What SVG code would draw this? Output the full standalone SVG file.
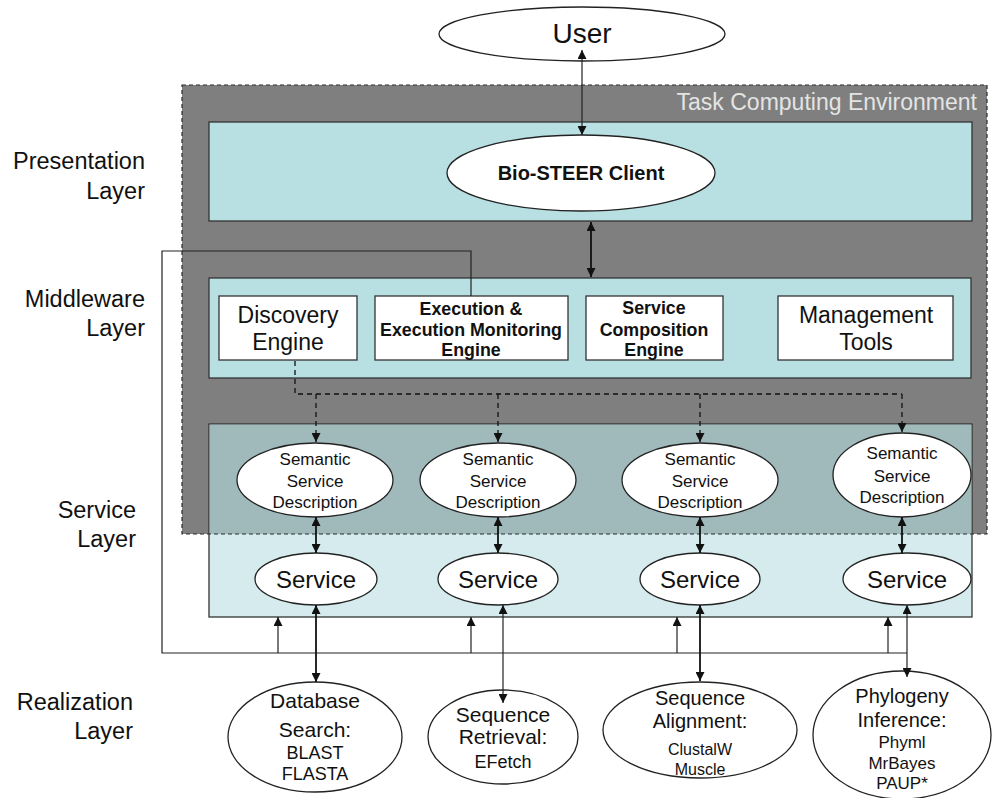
<svg xmlns="http://www.w3.org/2000/svg" width="992" height="798" viewBox="0 0 992 798">
<style>
text{font-family:"Liberation Sans",Arial,Helvetica,sans-serif;fill:#111;}
.lbl{font-size:23.5px;text-anchor:end;}
.box{stroke:#333;stroke-width:1.3;}
.wbox{fill:#fff;stroke:#333;stroke-width:1.3;}
.ell{fill:#fff;stroke:#222;stroke-width:1.3;}
.c{text-anchor:middle;}
.b{font-weight:bold;}
.ln{fill:none;stroke:#222;stroke-width:1.2;}
.lnb{fill:none;stroke:#111;stroke-width:1.8;}
.dash{fill:none;stroke:#111;stroke-width:1.3;stroke-dasharray:5,4;}
</style>
<defs>
<marker id="ah" viewBox="0 0 10 10" refX="10" refY="5" markerWidth="9" markerHeight="9" markerUnits="userSpaceOnUse" orient="auto-start-reverse">
<path d="M0,0 L10,5 L0,10 z" fill="#111"/>
</marker>
</defs>
<rect width="992" height="798" fill="#fff"/>

<g id="layer-labels">
<text class="lbl" x="145" y="169">Presentation</text>
<text class="lbl" x="145" y="199">Layer</text>
<text class="lbl" x="145" y="307">Middleware</text>
<text class="lbl" x="145" y="336">Layer</text>
<text class="lbl" x="136" y="518">Service</text>
<text class="lbl" x="136" y="547">Layer</text>
<text class="lbl" x="133" y="710">Realization</text>
<text class="lbl" x="133" y="739">Layer</text>
</g>

<g id="task-computing-environment">
<rect x="182" y="85" width="805" height="449" fill="#7f7f7f"/>
<text x="977" y="110" style="font-size:23px;text-anchor:end;fill:#e4e4e4">Task Computing Environment</text>
</g>

<g id="presentation-layer">
<rect class="box" x="209" y="122" width="763" height="99" fill="#b8dfe2"/>
</g>

<g id="middleware-layer">
<rect class="box" x="209" y="278" width="762" height="100" fill="#b8dfe2"/>
</g>

<g id="service-layer">
<rect class="box" x="209" y="424" width="763" height="193" fill="#d5ebee"/>
<rect x="209.7" y="424.7" width="761.6" height="109.3" fill="#a0babb"/>
</g>

<g id="tce-border">
<rect x="182" y="85" width="805" height="449" fill="none" stroke="#2a2a2a" stroke-width="1.2" stroke-dasharray="4,3"/>
</g>

<g id="user">
<ellipse class="ell" cx="582" cy="34" rx="143" ry="27"/>
<text class="c" x="582" y="43" style="font-size:28px">User</text>
</g>

<g id="bio-steer-client">
<ellipse class="ell" cx="581" cy="173" rx="134" ry="38"/>
<text class="c b" x="581" y="180" style="font-size:20px">Bio-STEER Client</text>
</g>

<g id="discovery-engine">
<rect class="wbox" x="219" y="296" width="138" height="64"/>
<text class="c" x="288" y="323" style="font-size:23px">Discovery</text>
<text class="c" x="288" y="350" style="font-size:23px">Engine</text>
</g>

<g id="execution-engine">
<rect class="wbox" x="375" y="296" width="193" height="64"/>
<text class="c b" x="471" y="315" style="font-size:17.8px">Execution &amp;</text>
<text class="c b" x="471" y="336" style="font-size:17.8px">Execution Monitoring</text>
<text class="c b" x="471" y="356" style="font-size:17.8px">Engine</text>
</g>

<g id="service-composition-engine">
<rect class="wbox" x="586" y="296" width="137" height="64"/>
<text class="c b" x="654" y="314" style="font-size:17.8px">Service</text>
<text class="c b" x="654" y="336" style="font-size:17.8px">Composition</text>
<text class="c b" x="654" y="356" style="font-size:17.8px">Engine</text>
</g>

<g id="management-tools">
<rect class="wbox" x="778" y="296" width="175" height="64"/>
<text class="c" x="866" y="323" style="font-size:23px">Management</text>
<text class="c" x="866" y="350" style="font-size:23px">Tools</text>
</g>

<g id="ssd-1">
<ellipse class="ell" cx="315" cy="480" rx="78" ry="37"/>
<text class="c" x="315" y="465" style="font-size:17px">Semantic</text>
<text class="c" x="315" y="487" style="font-size:17px">Service</text>
<text class="c" x="315" y="508" style="font-size:17px">Description</text>
</g>
<g id="ssd-2">
<ellipse class="ell" cx="498" cy="480" rx="78" ry="37"/>
<text class="c" x="498" y="465" style="font-size:17px">Semantic</text>
<text class="c" x="498" y="487" style="font-size:17px">Service</text>
<text class="c" x="498" y="508" style="font-size:17px">Description</text>
</g>
<g id="ssd-3">
<ellipse class="ell" cx="700" cy="480" rx="78" ry="37"/>
<text class="c" x="700" y="465" style="font-size:17px">Semantic</text>
<text class="c" x="700" y="487" style="font-size:17px">Service</text>
<text class="c" x="700" y="508" style="font-size:17px">Description</text>
</g>
<g id="ssd-4">
<ellipse class="ell" cx="902" cy="475" rx="69" ry="42"/>
<text class="c" x="902" y="459" style="font-size:17px">Semantic</text>
<text class="c" x="902" y="482" style="font-size:17px">Service</text>
<text class="c" x="902" y="503" style="font-size:17px">Description</text>
</g>

<g id="service-1">
<ellipse class="ell" cx="316" cy="579" rx="61" ry="26"/>
<text class="c" x="316" y="588" style="font-size:24px">Service</text>
</g>
<g id="service-2">
<ellipse class="ell" cx="498" cy="579" rx="60" ry="26"/>
<text class="c" x="498" y="588" style="font-size:24px">Service</text>
</g>
<g id="service-3">
<ellipse class="ell" cx="700" cy="579" rx="60" ry="26"/>
<text class="c" x="700" y="588" style="font-size:24px">Service</text>
</g>
<g id="service-4">
<ellipse class="ell" cx="907" cy="579" rx="64" ry="26"/>
<text class="c" x="907" y="588" style="font-size:24px">Service</text>
</g>

<g id="database-search">
<ellipse class="ell" cx="315" cy="737" rx="87" ry="55"/>
<text class="c" x="315" y="708" style="font-size:21px">Database</text>
<text class="c" x="315" y="737" style="font-size:21px">Search:</text>
<text class="c" x="315" y="759" style="font-size:18px">BLAST</text>
<text class="c" x="315" y="780" style="font-size:18px">FLASTA</text>
</g>
<g id="sequence-retrieval">
<ellipse class="ell" cx="503" cy="737" rx="75" ry="47"/>
<text class="c" x="503" y="722" style="font-size:21px">Sequence</text>
<text class="c" x="503" y="744" style="font-size:21px">Retrieval:</text>
<text class="c" x="503" y="768" style="font-size:18px">EFetch</text>
</g>
<g id="sequence-alignment">
<ellipse class="ell" cx="700" cy="730" rx="97" ry="48"/>
<text class="c" x="700" y="705" style="font-size:20px">Sequence</text>
<text class="c" x="700" y="728" style="font-size:20px">Alignment:</text>
<text class="c" x="700" y="755" style="font-size:16px">ClustalW</text>
<text class="c" x="700" y="775" style="font-size:16px">Muscle</text>
</g>
<g id="phylogeny-inference">
<ellipse class="ell" cx="902" cy="735" rx="89" ry="64"/>
<text class="c" x="902" y="703" style="font-size:20px">Phylogeny</text>
<text class="c" x="902" y="727" style="font-size:20px">Inference:</text>
<text class="c" x="902" y="748" style="font-size:17px">Phyml</text>
<text class="c" x="902" y="769" style="font-size:17px">MrBayes</text>
<text class="c" x="902" y="789" style="font-size:17px">PAUP*</text>
</g>

<g id="connectors">
<line class="ln" x1="582" y1="50" x2="582" y2="135" marker-start="url(#ah)" marker-end="url(#ah)"/>
<line class="lnb" x1="591" y1="222" x2="591" y2="277" marker-start="url(#ah)" marker-end="url(#ah)"/>
<path class="dash" d="M295,361 V394 H902"/>
<line class="dash" x1="316" y1="394" x2="316" y2="442" marker-end="url(#ah)"/>
<line class="dash" x1="498" y1="394" x2="498" y2="442" marker-end="url(#ah)"/>
<line class="dash" x1="700" y1="394" x2="700" y2="442" marker-end="url(#ah)"/>
<line class="dash" x1="902" y1="394" x2="902" y2="432" marker-end="url(#ah)"/>
<line class="lnb" x1="316" y1="517" x2="316" y2="553" marker-start="url(#ah)" marker-end="url(#ah)"/>
<line class="lnb" x1="498" y1="517" x2="498" y2="553" marker-start="url(#ah)" marker-end="url(#ah)"/>
<line class="lnb" x1="700" y1="517" x2="700" y2="553" marker-start="url(#ah)" marker-end="url(#ah)"/>
<line class="lnb" x1="902" y1="517" x2="902" y2="553" marker-start="url(#ah)" marker-end="url(#ah)"/>
<path class="ln" d="M471,296 V251 H162 V653 H907"/>
<line class="ln" x1="278" y1="653" x2="278" y2="617" marker-end="url(#ah)"/>
<line class="ln" x1="471" y1="653" x2="471" y2="617" marker-end="url(#ah)"/>
<line class="ln" x1="677" y1="653" x2="677" y2="617" marker-end="url(#ah)"/>
<line class="ln" x1="888" y1="653" x2="888" y2="617" marker-end="url(#ah)"/>
<line class="lnb" x1="316" y1="605" x2="316" y2="682" marker-start="url(#ah)" marker-end="url(#ah)"/>
<line class="ln" x1="503" y1="605" x2="503" y2="703" marker-start="url(#ah)" marker-end="url(#ah)"/>
<line class="lnb" x1="700" y1="605" x2="700" y2="681" marker-start="url(#ah)" marker-end="url(#ah)"/>
<line class="ln" x1="907" y1="605" x2="907" y2="677" marker-start="url(#ah)" marker-end="url(#ah)"/>
</g>
</svg>
